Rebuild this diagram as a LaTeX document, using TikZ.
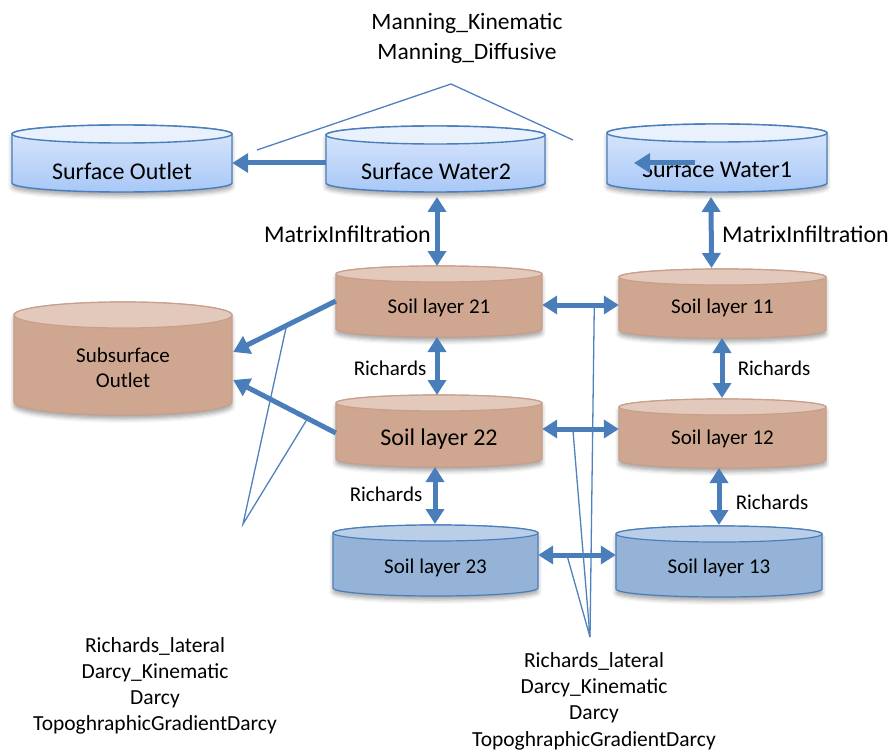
\documentclass[tikz,border=0pt]{standalone}
\usepackage{fontspec}
\setmainfont{Carlito}
\usetikzlibrary{arrows.meta,calc,shadows.blur}
\definecolor{arrowblue}{HTML}{4A7EBB}
\definecolor{lineblue}{HTML}{4F81BD}
\definecolor{swtop}{HTML}{E9F1FD}
\definecolor{swbodyA}{HTML}{DCE8FC}
\definecolor{swbodyB}{HTML}{A8C8F7}
\definecolor{brbody}{HTML}{CFA791}
\definecolor{brtop}{HTML}{E3C9BC}
\definecolor{brdraw}{HTML}{C79F8A}
\definecolor{slbody}{HTML}{95B3D7}
\definecolor{sltop}{HTML}{BACEE7}
\newcommand\mycyl[7]{%
  \pgfmathsetmacro\cx{(#1+#2)/2}%
  \pgfmathsetmacro\rx{(#2-#1)/2}%
  \path[#6,blur shadow={shadow xshift=0pt,shadow yshift=-4pt,shadow opacity=35,shadow blur radius=4pt}]
    (#1,#3) -- (#1,#4)
    .. controls (#1,#4+0.5523*#5) and (\cx-0.5523*\rx,#4+#5) .. (\cx,#4+#5)
    .. controls (\cx+0.5523*\rx,#4+#5) and (#2,#4+0.5523*#5) .. (#2,#4)
    -- (#2,#3)
    .. controls (#2,#3-0.5523*#5) and (\cx+0.5523*\rx,#3-#5) .. (\cx,#3-#5)
    .. controls (\cx-0.5523*\rx,#3-#5) and (#1,#3-0.5523*#5) .. (#1,#3) -- cycle;
  \path[#7] (\cx,#3) ellipse [x radius=\rx, y radius=#5];
}
\tikzset{
  swbody/.style={draw=arrowblue,line width=1.4pt,top color=swbodyA,bottom color=swbodyB},
  swtopst/.style={draw=arrowblue,line width=1.4pt,fill=swtop},
  brbodyst/.style={draw=brdraw,line width=1.2pt,fill=brbody},
  brtopst/.style={draw=brdraw,line width=1.2pt,fill=brtop},
  slbodyst/.style={draw=arrowblue,line width=1.2pt,fill=slbody},
  sltopst/.style={draw=arrowblue,line width=1.2pt,fill=sltop},
  cyltext/.style={inner sep=0pt,align=center,text=black},
  lbl/.style={inner sep=0pt,align=center,text=black,font=\fontsize{21}{26}\selectfont},
  bigarrow/.style={draw=arrowblue,line width=5pt,-{Triangle[length=16pt,width=19pt]}},
  dblarrow/.style={draw=arrowblue,line width=5pt,{Triangle[length=15pt,width=18pt]}-{Triangle[length=15pt,width=18pt]}},
  thinline/.style={draw=lineblue,line width=1.3pt}
}
\begin{document}
\begin{tikzpicture}[x=1pt,y=-1pt]
\useasboundingbox (0,0) rectangle (890,751);
% cylinders
\mycyl{12}{232}{134}{183}{9}{swbody}{swtopst}
\mycyl{326}{545}{135}{183}{9}{swbody}{swtopst}
\mycyl{607}{827}{133}{183}{9}{swbody}{swtopst}
\mycyl{14}{232}{315}{402}{13}{brbodyst}{brtopst}
\mycyl{336}{542}{274}{329}{8}{brbodyst}{brtopst}
\mycyl{619}{826}{277}{330}{8}{brbodyst}{brtopst}
\mycyl{336}{542}{403}{459}{8}{brbodyst}{brtopst}
\mycyl{619}{826}{407}{460}{8}{brbodyst}{brtopst}
\mycyl{333}{538}{533}{588}{8}{slbodyst}{sltopst}
\mycyl{616}{822}{534}{589}{8}{slbodyst}{sltopst}
% cylinder texts
\node[cyltext,minimum width=220pt,font=\fontsize{24}{29}\selectfont] (so) at (122,171) {Surface Outlet};
\node[cyltext,minimum width=219pt,font=\fontsize{24}{29}\selectfont] (sw2) at (436,171) {Surface Water2};
\node[cyltext,minimum width=220pt,font=\fontsize{24}{29}\selectfont] (sw1) at (717,169) {Surface Water1};
\node[cyltext,minimum width=218pt,font=\fontsize{21}{25}\selectfont] (sso) at (123,368) {Subsurface\\Outlet};
\node[cyltext,minimum width=206pt,font=\fontsize{21}{26}\selectfont] (s21) at (439,308) {Soil layer 21};
\node[cyltext,minimum width=207pt,font=\fontsize{21}{26}\selectfont] (s11) at (722.5,308) {Soil layer 11};
\node[cyltext,minimum width=206pt,font=\fontsize{24}{29}\selectfont] (s22) at (439,439) {Soil layer 22};
\node[cyltext,minimum width=207pt,font=\fontsize{21}{26}\selectfont] (s12) at (722.5,439) {Soil layer 12};
\node[cyltext,minimum width=205pt,font=\fontsize{21}{26}\selectfont] (s23) at (435.5,568) {Soil layer 23};
\node[cyltext,minimum width=206pt,font=\fontsize{21}{26}\selectfont] (s13) at (719,568) {Soil layer 13};
% labels
\node[lbl,font=\fontsize{23.5}{30}\selectfont] (manning) at (467,38) {Manning\_Kinematic\\Manning\_Diffusive};
\node[lbl,anchor=east,font=\fontsize{24}{28}\selectfont] (mi2) at (431,234) {MatrixInfiltration};
\node[lbl,anchor=west,font=\fontsize{24}{28}\selectfont] (mi1) at (722,234) {MatrixInfiltration};
\node[lbl] (r21) at (390,368) {Richards};
\node[lbl] (r11) at (774,368) {Richards};
\node[lbl] (r22) at (386,494) {Richards};
\node[lbl] (r12) at (772,502) {Richards};
\node[lbl,font=\fontsize{21.5}{26}\selectfont] (leftlist) at (155,686) {Richards\_lateral\\Darcy\_Kinematic\\Darcy\\TopoghraphicGradientDarcy};
\node[lbl,font=\fontsize{21.5}{26.3}\selectfont] (rightlist) at (594,701) {Richards\_lateral\\Darcy\_Kinematic\\Darcy\\TopoghraphicGradientDarcy};
% thick arrows
\draw[bigarrow] ([yshift=8pt]sw2.west) -- ([yshift=8pt]so.east);
\draw[bigarrow] ($(sw1.center)+(-22,-6)$) -- ($(sw1.center)+(-83,-6)$);
\draw[dblarrow] ($(sw2.center)+(1,26)$) -- ($(s21.center)+(-2,-42)$);
\draw[dblarrow] ($(sw1.center)+(-6,28)$) -- ($(s11.center)+(-11,-40)$);
\draw[dblarrow] ([yshift=3pt]s21.east) -- coordinate[pos=0.68] (h1) ([yshift=3pt]s11.west);
\draw[dblarrow] ($(s21.center)+(-2,29)$) -- ($(s22.center)+(-2,-44)$);
\draw[dblarrow] ($(s11.center)+(-0.5,30)$) -- ($(s12.center)+(-0.5,-41)$);
\draw[dblarrow] ([yshift=10pt]s22.east) -- coordinate[pos=0.4] (h2) ([yshift=10pt]s12.west);
\draw[dblarrow] ($(s22.center)+(-4,28)$) -- ($(s23.center)+(-0.5,-44)$);
\draw[dblarrow] ($(s12.center)+(-3.5,29)$) -- ($(s13.center)+(0,-43)$);
\draw[dblarrow] ([yshift=13pt]s23.east) -- coordinate[pos=0.37] (h3) ([yshift=13pt]s13.west);
\draw[bigarrow] ([yshift=7pt]s21.west) -- coordinate[pos=0.48] (l1) ($(sso.east)+(1,-16)$);
\draw[bigarrow] ([yshift=6pt]s22.west) -- coordinate[pos=0.275] (l2) ($(sso.east)+(1,12)$);
% thin callout lines
\coordinate (mapex) at (451,84);
\coordinate (mleft) at (257,150);
\coordinate (mright) at (573,140);
\draw[thinline] (mleft) -- (mapex) -- (mright);
\coordinate (lapex) at (243,524);
\draw[thinline] (l1) -- (lapex) -- (l2);
\coordinate (rapex) at (590,637);
\draw[thinline] (h1) -- (rapex);
\draw[thinline] (h2) -- (rapex) -- (h3);
\end{tikzpicture}
\end{document}
